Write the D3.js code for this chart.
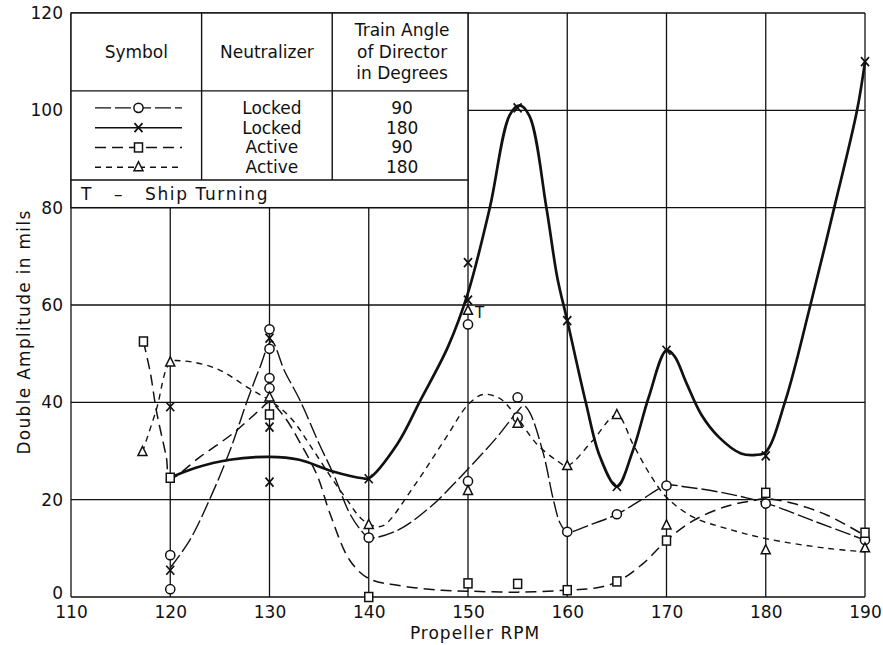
<!DOCTYPE html>
<html><head><meta charset="utf-8">
<script src="https://cdn.jsdelivr.net/npm/d3@7"></script>
<style>
html,body{margin:0;padding:0;background:#fff;}
text{font-family:"DejaVu Sans",sans-serif;fill:#111;}
</style></head>
<body>
<svg id="c" width="883" height="645"></svg>
<script>
// ---------- data ----------
const rpmTicks = [110,120,130,140,150,160,170,180,190];
const ampTicks = [0,20,40,60,80,100,120];

// measured points (RPM, double amplitude in mils)
const circlePts = [[120,8.6],[120,1.6],[130,55],[130,51],[130,45],[130,42.9],[140,12.2],[150,56],[150,23.8],[155,41],[155,36.9],[160,13.4],[165,17],[170,22.9],[180,19.2],[190,11.7]];
const crossPts = [[120,39.1],[120,5.5],[130,53.2],[130,34.9],[130,23.6],[140,24.3],[150,68.7],[150,61],[155,100.5],[160,56.8],[165,22.7],[170,50.7],[180,29],[190,110]];
const squarePts = [[117.3,52.5],[120,24.5],[130,37.5],[140,0],[150,2.8],[155,2.7],[160,1.4],[165,3.2],[170,11.6],[180,21.4],[190,13.2]];
const trianglePts = [[117.2,29.8],[120,48.2],[130,41],[140,14.8],[150,58.8],[150,21.8],[155,35.6],[160,26.9],[165,37.4],[170,14.7],[180,9.6],[190,10]];

// faired curves
const circleCurve = [[120,6],[122,11.8],[124,20.2],[126,30],[127.7,40],[129,47],[130.2,52.5],[131.5,46.5],[133.1,40.3],[135,31.5],[136.5,25],[138.1,17.1],[139.3,13.5],[140,12.2],[142.9,13.7],[146.2,18.5],[150,26.3],[152.9,32.8],[154.9,37.9],[155.6,39.3],[156.2,38],[157.6,29.4],[158.6,20],[159.3,15.1],[160,13.4],[162.5,15],[165,17],[167.5,20],[170,22.9],[172,22.6],[176,21.3],[180,19.3],[185,15.5],[190,11.7]];
const crossCurve = [[120,24.5],[122.5,26.5],[126,28.2],[130,28.8],[133,28.2],[136.4,25.8],[139.4,24.4],[140,24.4],[142.9,31.5],[145.2,40.4],[148,51.5],[150,62.5],[152.2,80],[154.2,99],[155.2,101],[156.2,98.8],[157.9,80],[159,65.6],[160,56.8],[161.9,39.7],[163.3,28.8],[165,22.7],[166.6,30],[168.2,41],[170,50.7],[170.8,49.5],[172,44],[173.5,37.5],[175.3,32.8],[177.5,29.5],[179,29.2],[180,29.8],[182,40.5],[184.5,60],[186.9,80],[189.2,100],[190,110]];
const squareCurve = [[117.3,52.5],[118,46],[118.6,38.3],[119.6,28.8],[120,24.5],[123,28.8],[126.3,33.6],[129,38.4],[130,40],[131.5,37],[133,32],[134.8,25],[136.1,17.1],[138.1,7.5],[140,3.8],[142.9,2.4],[147.3,1.4],[150,1.2],[155,1],[160,1.4],[162.7,1.8],[165,3.1],[167.6,6.8],[170,11.6],[172.7,15.7],[176,18.6],[178.7,19.8],[180,20.2],[182.8,19.2],[186.2,16.8],[190,12.6]];
const triangleCurve = [[117.2,29.8],[118.6,38.5],[120,48.2],[121.3,48.5],[124.7,46.9],[128,42.8],[130,40.4],[132.1,36.9],[134.3,30.5],[136.4,24],[137.8,20],[139.2,16.2],[140.5,14.6],[141.5,14.7],[144.5,22.6],[147.8,32.8],[150,39.5],[151.5,41.6],[153.2,40.8],[154.7,37.6],[156.9,31.5],[158.9,28.1],[160,27],[162.5,32],[165,37.4],[166.6,31.5],[168.3,25.3],[170,20.5],[172.7,16.4],[176,14.1],[180,12],[186.2,10],[190,9.3]];

const legendHeader = ["Symbol","Neutralizer",["Train Angle","of Director","in Degrees"]];
const legendNeutralizer = ["Locked","Locked","Active","Active"];
const legendAngle = ["90","180","90","180"];
const legendNote = "T   –   Ship Turning";
const turningLabel = {rpm:150, amp:58.8, text:"T"};

// ---------- drawing ----------
const svg = d3.select("#c");
const x = d3.scaleLinear().domain([110,190]).range([71,865]);
const y = d3.scaleLinear().domain([0,120]).range([597,13]);

const series = [
  {key:"circle", pts:circlePts, curve:circleCurve, width:1.4, dash:"16,4"},
  {key:"cross", pts:crossPts, curve:crossCurve, width:2.7, dash:null},
  {key:"square", pts:squarePts, curve:squareCurve, width:1.5, dash:"11,6"},
  {key:"triangle", pts:trianglePts, curve:triangleCurve, width:1.4, dash:"6,5"}
];

// grid
const g = svg.append("g");
g.selectAll("line.v").data(rpmTicks).join("line")
  .attr("x1",d=>x(d)).attr("x2",d=>x(d)).attr("y1",y(0)).attr("y2",y(120))
  .attr("stroke","#111").attr("stroke-width",1.3);
g.selectAll("line.h").data(ampTicks).join("line")
  .attr("y1",d=>y(d)).attr("y2",d=>y(d)).attr("x1",x(110)).attr("x2",x(190))
  .attr("stroke","#111").attr("stroke-width",1.3);

// axes labels (ticks)
const xa = d3.axisBottom(x).tickValues(rpmTicks).tickSize(0).tickPadding(9);
const xg = svg.append("g").attr("transform",`translate(0,${y(0)})`).call(xa);
xg.select(".domain").remove();
xg.selectAll("text").style("font-size","17px").style("font-family","DejaVu Sans").attr("fill","#111");
const ya = d3.axisLeft(y).tickValues(ampTicks).tickSize(0).tickPadding(8);
const yg = svg.append("g").attr("transform",`translate(${x(110)},0)`).call(ya);
yg.select(".domain").remove();
yg.selectAll("text").style("font-size","17px").style("font-family","DejaVu Sans").attr("fill","#111");
yg.selectAll(".tick").filter(d=>d===0).select("text").attr("dy","0.1em");

svg.append("text").attr("x",475).attr("y",639).attr("text-anchor","middle")
  .style("font-size","17px").style("letter-spacing","1px").text("Propeller RPM");
svg.append("text").attr("transform","translate(30,332) rotate(-90)").attr("text-anchor","middle")
  .style("font-size","17px").style("letter-spacing","1.3px").text("Double Amplitude in mils");

// legend table
const tx0 = x(110), tx1 = x(150), ty0 = y(120), ty1 = y(80);
const th = ty1 - ty0, tw = tx1 - tx0;
const hdrB = ty0 + th*0.40, dataB = ty0 + th*0.858;
const c1 = tx0 + tw*0.329, c2 = tx0 + tw*0.658;
const lg = svg.append("g");
lg.append("rect").attr("x",tx0).attr("y",ty0).attr("width",tw).attr("height",th)
  .attr("fill","#fff").attr("stroke","#111").attr("stroke-width",1.4);
[[tx0,hdrB,tx1,hdrB],[tx0,dataB,tx1,dataB],[c1,ty0,c1,dataB],[c2,ty0,c2,dataB]].forEach(l=>{
  lg.append("line").attr("x1",l[0]).attr("y1",l[1]).attr("x2",l[2]).attr("y2",l[3])
    .attr("stroke","#111").attr("stroke-width",1.4);
});
const hy = (ty0+hdrB)/2;
lg.append("text").attr("x",(tx0+c1)/2).attr("y",hy+6).attr("text-anchor","middle").style("font-size","17px").text(legendHeader[0]);
lg.append("text").attr("x",(c1+c2)/2).attr("y",hy+6).attr("text-anchor","middle").style("font-size","17px").text(legendHeader[1]);
legendHeader[2].forEach((t,i)=>{
  lg.append("text").attr("x",(c2+tx1)/2+2).attr("y",hy+6+(i-1)*21.5).attr("text-anchor","middle").style("font-size","17px").text(t);
});
const rowY = i => hdrB + 17 + i*19.8;
legendNeutralizer.forEach((t,i)=>{
  lg.append("text").attr("x",(c1+c2)/2+5).attr("y",rowY(i)+6).attr("text-anchor","middle").style("font-size","17px").text(t);
  lg.append("text").attr("x",(c2+tx1)/2+2).attr("y",rowY(i)+6).attr("text-anchor","middle").style("font-size","17px").text(legendAngle[i]);
});
lg.append("text").attr("x",tx0+10).attr("y",(dataB+ty1)/2+6).style("font-size","17px")
  .style("white-space","pre").style("letter-spacing","1.6px").text(legendNote);

// marker drawing
function marker(sel, key, cx, cy){
  const gg = sel.append("g").attr("transform",`translate(${cx},${cy})`);
  if(key==="circle") gg.append("circle").attr("r",4.6).attr("fill","#fff").attr("stroke","#111").attr("stroke-width",1.5);
  else if(key==="square") gg.append("rect").attr("x",-4).attr("y",-4.5).attr("width",8).attr("height",9).attr("fill","#fff").attr("stroke","#111").attr("stroke-width",1.5);
  else if(key==="triangle") gg.append("path").attr("d","M0,-5.5L4.5,3.5L-4.5,3.5Z").attr("fill","#fff").attr("stroke","#111").attr("stroke-width",1.5);
  else gg.append("path").attr("d","M-4,-4.5L4,4.5M4,-4.5L-4,4.5").attr("stroke","#111").attr("stroke-width",1.7).attr("fill","none");
}

// legend samples
series.forEach((s,i)=>{
  const yy = rowY(i);
  lg.append("line").attr("x1",95).attr("x2",182).attr("y1",yy).attr("y2",yy)
    .attr("stroke","#111").attr("stroke-width",Math.min(s.width,1.5)).attr("stroke-dasharray",s.dash);
  marker(lg, s.key, (95+182)/2, yy);
});

// curves
const line = d3.line().x(d=>x(d[0])).y(d=>y(d[1])).curve(d3.curveCatmullRom.alpha(0.5));
const cg = svg.append("g");
series.forEach(s=>{
  cg.append("path").attr("d",line(s.curve)).attr("fill","none").attr("stroke","#111")
    .attr("stroke-width",s.width).attr("stroke-dasharray",s.dash).attr("stroke-linejoin","round");
});
// markers
const mg = svg.append("g");
series.forEach(s=>{ s.pts.forEach(p=>marker(mg, s.key, x(p[0]), y(p[1]))); });

svg.append("text").attr("x",x(turningLabel.rpm)+7).attr("y",y(turningLabel.amp)+7)
  .style("font-size","15px").text(turningLabel.text);
</script>
</body></html>
